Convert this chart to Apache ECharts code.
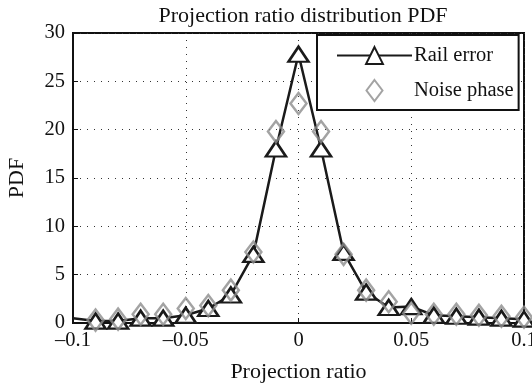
<!DOCTYPE html>
<html>
<head>
<meta charset="utf-8">
<script src="https://cdn.jsdelivr.net/npm/echarts@6/dist/echarts.min.js"></script>
<style>
  html, body { margin: 0; padding: 0; background: #fff; }
  #pdf-chart { width: 532px; height: 383px; }
</style>
</head>
<body>
<div id="pdf-chart"></div>
<script>
// projection ratio bins
const ratios = [-0.1, -0.09, -0.08, -0.07, -0.06, -0.05, -0.04, -0.03, -0.02, -0.01, 0,
  0.01, 0.02, 0.03, 0.04, 0.05, 0.06, 0.07, 0.08, 0.09, 0.1];
const railError = [0.5, 0.2, 0.2, 0.5, 0.5, 0.8, 1.5, 2.9, 7.1, 18.0, 27.8,
  18.0, 7.3, 3.2, 1.6, 1.7, 0.8, 0.7, 0.6, 0.5, 0.4];
const noiseRatios = [-0.09, -0.08, -0.07, -0.06, -0.05, -0.04, -0.03, -0.02, -0.01, 0,
  0.01, 0.02, 0.03, 0.04, 0.05, 0.06, 0.07, 0.08, 0.09, 0.1];
const noisePhase = [0.3, 0.4, 0.9, 0.9, 1.5, 1.8, 3.4, 7.35, 19.8, 22.7,
  19.8, 7.1, 3.4, 2.2, 1.0, 0.9, 0.9, 0.8, 0.7, 0.6];

const fontFam = '"Liberation Serif", "DejaVu Serif", serif';
const fmtTick = (v) => {
  if (v === 0) return '0';
  const s = String(Math.round(v * 100) / 100);
  return v < 0 ? '\u2013' + s.slice(1) : s;
};

const myChart = echarts.init(document.getElementById('pdf-chart'));
const railData = ratios.map((x, i) => {
  const item = { value: [x, railError[i]] };
  // first point has no marker (line enters from the edge)
  if (i === 0) item.symbol = 'none';
  return item;
});
const noiseData = noiseRatios.map((x, i) => [x, noisePhase[i]]);
// diamond centred in a 75x21 box so the legend icon is not stretched
const diamondIcon = 'path://M0,0 M75,21 M37.5,0 L45.5,10.5 L37.5,21 L29.5,10.5 Z';

const options = {
  animation: false,
  textStyle: { fontFamily: fontFam },
  title: {
    text: 'Projection ratio distribution PDF',
    left: 298,
    textAlign: 'center',
    top: 0,
    textStyle: { fontFamily: fontFam, fontSize: 22, fontWeight: 'normal', color: '#111' },
  },
  grid: {
    left: 73,
    right: 8,
    top: 33,
    bottom: 60,
    outerBoundsMode: 'none',
    containLabel: false,
    show: true,
    borderColor: '#111',
    borderWidth: 2,
  },
  legend: {
    left: 317,
    top: 35,
    orient: 'vertical',
    padding: [10, 5, 8, 19],
    itemGap: 13,
    itemWidth: 75,
    itemHeight: 21,
    borderColor: '#111',
    borderWidth: 2,
    backgroundColor: '#fff',
    textStyle: { fontFamily: fontFam, fontSize: 20.5, color: '#111', padding: [0, 0, 0, -3] },
    data: [
      { name: 'Rail error' },
      { name: 'Noise phase', icon: diamondIcon },
    ],
  },
  xAxis: {
    type: 'value',
    min: -0.1,
    max: 0.1,
    interval: 0.05,
    name: 'Projection ratio',
    nameLocation: 'middle',
    nameGap: 38,
    nameTextStyle: { fontFamily: fontFam, fontSize: 22, color: '#111' },
    axisLine: { show: true, onZero: false, lineStyle: { color: '#111', width: 2 } },
    axisTick: { show: true, inside: true, length: 5, lineStyle: { color: '#111' } },
    axisLabel: { formatter: fmtTick, fontFamily: fontFam, fontSize: 20.5, color: '#111', margin: 7 },
    splitLine: { show: true, lineStyle: { color: '#333', width: 1, type: [1, 6] } },
  },
  yAxis: {
    type: 'value',
    min: 0,
    max: 30,
    interval: 5,
    name: 'PDF',
    nameLocation: 'middle',
    nameGap: 45,
    nameTextStyle: { fontFamily: fontFam, fontSize: 22, color: '#111' },
    axisLine: { show: true, onZero: false, lineStyle: { color: '#111', width: 2 } },
    axisTick: { show: true, inside: true, length: 5, lineStyle: { color: '#111' } },
    axisLabel: { fontFamily: fontFam, fontSize: 20.5, color: '#111', margin: 8 },
    splitLine: { show: true, lineStyle: { color: '#333', width: 1, type: [1, 6] } },
  },
  series: [
    {
      name: 'Rail error',
      type: 'line',
      data: railData,
      symbol: 'triangle',
      symbolSize: [20, 15],
      showAllSymbol: true,
      lineStyle: { color: '#1a1a1a', width: 2.5 },
      itemStyle: { color: '#fff', borderColor: '#1a1a1a', borderWidth: 2.5 },
      z: 2,
    },
    {
      name: 'Noise phase',
      type: 'scatter',
      data: noiseData,
      symbol: 'diamond',
      symbolSize: [16, 21],
      itemStyle: { color: 'rgba(255,255,255,0)', borderColor: '#8c8c8c', borderWidth: 2.5 },
      z: 3,
    },
  ],
};
myChart.setOption(options);
</script>
</body>
</html>
